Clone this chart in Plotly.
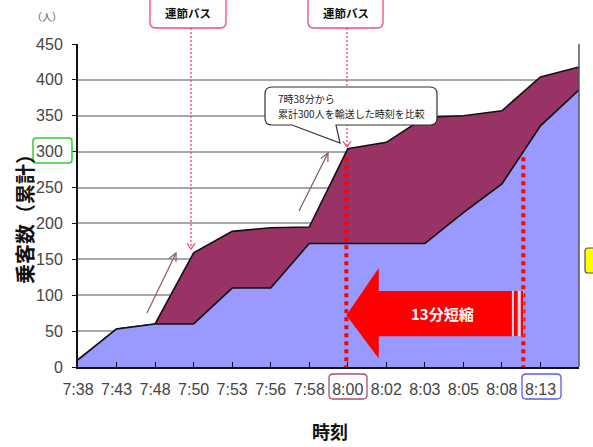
import math
import plotly.graph_objects as go

# ---------------- data ----------------
times = ["7:38", "7:43", "7:48", "7:50", "7:53", "7:56", "7:58",
         "8:00", "8:02", "8:03", "8:05", "8:08", "8:13", "8:18"]
with_artic_bus = [10, 53, 60, 159, 189, 194, 195, 304, 313, 348, 350, 357, 404, 418]
without_artic_bus = [10, 53, 60, 60, 110, 110, 172, 172, 172, 172, 215, 255, 336, 386]
y_tick_values = [0, 50, 100, 150, 200, 250, 300, 350, 400, 450]
target_total = 300

W, H = 593, 447
L, R, T, B = 78, 579, 44, 367  # plot area in pixels


def PX(x):
    return (x - L) / (R - L)


def PY(y):
    return (B - y) / (B - T)


def ppath(points, close=False):
    s = "M " + " L ".join(f"{PX(x):.5f},{PY(y):.5f}" for x, y in points)
    return s + (" Z" if close else "")


def vhead(tail, head, length=9, ang=28):
    dx, dy = head[0] - tail[0], head[1] - tail[1]
    d = math.hypot(dx, dy)
    ux, uy = dx / d, dy / d
    a = math.radians(ang)
    pts = []
    for s in (1, -1):
        cx = math.cos(a) * ux - s * math.sin(a) * uy
        cy = s * math.sin(a) * ux + math.cos(a) * uy
        pts.append((head[0] - length * cx, head[1] - length * cy))
    return [pts[0], head, pts[1]]


def rrect(x0, y0, x1, y1, r, tail=None):
    def P(x, y):
        return f"{PX(x):.5f},{PY(y):.5f}"
    s = f"M {P(x0 + r, y0)} L {P(x1 - r, y0)} Q {P(x1, y0)} {P(x1, y0 + r)} "
    s += f"L {P(x1, y1 - r)} Q {P(x1, y1)} {P(x1 - r, y1)} "
    if tail:
        bl, br, tx, ty = tail
        s += f"L {P(br, y1)} L {P(tx, ty)} L {P(bl, y1)} "
    s += f"L {P(x0 + r, y1)} Q {P(x0, y1)} {P(x0, y1 - r)} "
    s += f"L {P(x0, y0 + r)} Q {P(x0, y0)} {P(x0 + r, y0)} Z"
    return s


def note(x, y, text, size, color="#111111", xanchor="center", angle=0, ref="px"):
    if ref == "px":
        return dict(x=PX(x), y=PY(y), xref="paper", yref="paper", xanchor=xanchor, yanchor="middle",
                    text=text, showarrow=False, textangle=angle,
                    font=dict(family="Noto Sans CJK JP", size=size, color=color))
    return dict(x=x, y=y, xref="x", yref="y", xanchor=xanchor, yanchor="middle",
                text=text, showarrow=False, textangle=angle,
                font=dict(family="Noto Sans CJK JP", size=size, color=color))


xi = list(range(len(times)))

fig = go.Figure()
fig.add_trace(go.Scatter(x=xi, y=with_artic_bus, mode="lines", fill="tozeroy",
                         fillcolor="#993366", line=dict(color="#111111", width=1.6),
                         hoverinfo="skip", showlegend=False))
fig.add_trace(go.Scatter(x=xi, y=without_artic_bus, mode="lines", fill="tozeroy",
                         fillcolor="#9999ff", line=dict(color="#111111", width=1.6),
                         hoverinfo="skip", showlegend=False))

shapes = []
annotations = []

# right border of plot area
shapes.append(dict(type="line", xref="paper", yref="paper", x0=1, x1=1, y0=0, y1=1,
                   line=dict(color="#555555", width=1.5), layer="above"))


def crossing(series, level):
    for i in range(1, len(series)):
        if series[i - 1] < level <= series[i]:
            return i - 1 + (level - series[i - 1]) / (series[i] - series[i - 1])
    return None


x_with = crossing(with_artic_bus, target_total)
x_without = crossing(without_artic_bus, target_total)
for xv in (x_with, x_without):
    shapes.append(dict(type="line", xref="x", yref="y", x0=xv, x1=xv, y0=-3, y1=target_total - 4,
                       line=dict(color="#ff0000", width=4, dash="4px,4px"), layer="above"))

# big red arrow
xa = x_with
shaft_end = 11.26
shapes.append(dict(type="path", xref="x", yref="y",
                   path=f"M {xa},72 L {xa+0.84},138 L {xa+0.84},106 L {shaft_end},106 L {shaft_end},43 L {xa+0.84},43 L {xa+0.84},12 Z",
                   fillcolor="#ff0000", line=dict(width=0), layer="above"))
shapes.append(dict(type="rect", xref="x", yref="y", x0=shaft_end, x1=11.56, y0=43, y1=106,
                   fillcolor="#f4d8e8", line=dict(width=0), layer="above"))
for a, b in ((11.31, 11.41), (11.49, 11.55)):
    shapes.append(dict(type="rect", xref="x", yref="y", x0=a, x1=b, y0=43, y1=106,
                       fillcolor="#ff0000", line=dict(width=0), layer="above"))
annotations.append(note(9.45, 75, "<b>13分短縮</b>", 15, color="white", ref="data"))

# mauve guide arrows
for tail, head in (((147, 313), (176, 253)), ((299, 211), (328, 153))):
    shapes.append(dict(type="path", xref="paper", yref="paper", path=ppath([tail, head]),
                       line=dict(color="#8a5573", width=1.2), layer="above"))
    shapes.append(dict(type="path", xref="paper", yref="paper", path=ppath(vhead(tail, head, 9, 26)),
                       line=dict(color="#8a5573", width=1.2), layer="above"))

# "連節バス" callouts with dotted pink arrows
for (bx0, bx1, lx, ly) in ((150, 226, 191, 249), (308, 383, 347, 147)):
    shapes.append(dict(type="path", xref="paper", yref="paper",
                       path=rrect(bx0, -8, bx1, 28, 6), fillcolor="white",
                       line=dict(color="#ee4d7a", width=1.3), layer="above"))
    annotations.append(note((bx0 + bx1) / 2, 13, "<b>連節バス</b>", 11.5))
    shapes.append(dict(type="path", xref="paper", yref="paper", path=ppath([(lx, 28), (lx, ly)]),
                       line=dict(color="#ff3366", width=1.2, dash="2px,2px"), layer="above"))
    shapes.append(dict(type="path", xref="paper", yref="paper",
                       path=ppath(vhead((lx, 28), (lx, ly), 7, 35)),
                       line=dict(color="#ff3366", width=1.2), layer="above"))

# speech-balloon callout
shapes.append(dict(type="path", xref="paper", yref="paper",
                   path=rrect(265, 87, 437, 125, 7, tail=(292, 336, 340, 143)),
                   fillcolor="white", line=dict(color="#333333", width=1.2), layer="above"))
annotations.append(note(276, 98, "7時38分から", 10, color="#222222", xanchor="left"))
annotations.append(note(276, 114, "累計300人を輸送した時刻を比較", 10, color="#222222", xanchor="left"))

# highlighted tick labels
shapes.append(dict(type="path", xref="paper", yref="paper", path=rrect(33, 138, 72, 163, 3),
                   line=dict(color="#33cc33", width=1.5), layer="above"))
shapes.append(dict(type="path", xref="paper", yref="paper", path=rrect(329, 374, 367, 399, 4),
                   line=dict(color="#a8506e", width=1.3), layer="above"))
shapes.append(dict(type="path", xref="paper", yref="paper", path=rrect(522, 374, 561, 399, 4),
                   line=dict(color="#5a5aee", width=1.3), layer="above"))
# yellow marker at right edge
shapes.append(dict(type="path", xref="paper", yref="paper", path=rrect(585, 248, 605, 273, 3),
                   fillcolor="#ffff00", line=dict(color="#555555", width=1.2), layer="above"))

# axis titles / unit
annotations.append(note(47, 17, "（人）", 10, color="#555555"))
annotations.append(note(24, 214, "<b>乗客数（累計）</b>", 20, angle=-90))
annotations.append(note(330, 431, "<b>時刻</b>", 18))

tickfont = dict(family="Liberation Sans Narrow, Arial Narrow, Liberation Sans", size=16, color="#444444")

fig.update_layout(
    width=W, height=H,
    margin=dict(l=L, r=W - R, t=T, b=H - B, pad=0),
    paper_bgcolor="white", plot_bgcolor="white",
    showlegend=False,
    shapes=shapes, annotations=annotations,
    xaxis=dict(range=[0, len(times) - 1], tickmode="array", tickvals=xi, ticktext=times,
               showgrid=False, zeroline=False, showline=True, linecolor="#111111", linewidth=2,
               ticks="inside", ticklen=5, tickcolor="#111111", tickwidth=1,
               tickfont=tickfont, ticklabelstandoff=7),
    yaxis=dict(range=[0, 450], tickmode="array", tickvals=y_tick_values,
               showgrid=True, gridcolor="#a8a8a8", gridwidth=1.5, zeroline=False,
               showline=True, linecolor="#111111", linewidth=2,
               ticks="outside", ticklen=4, tickcolor="#111111",
               tickfont=tickfont, ticklabelstandoff=6),
)

fig.write_html("out.html")
